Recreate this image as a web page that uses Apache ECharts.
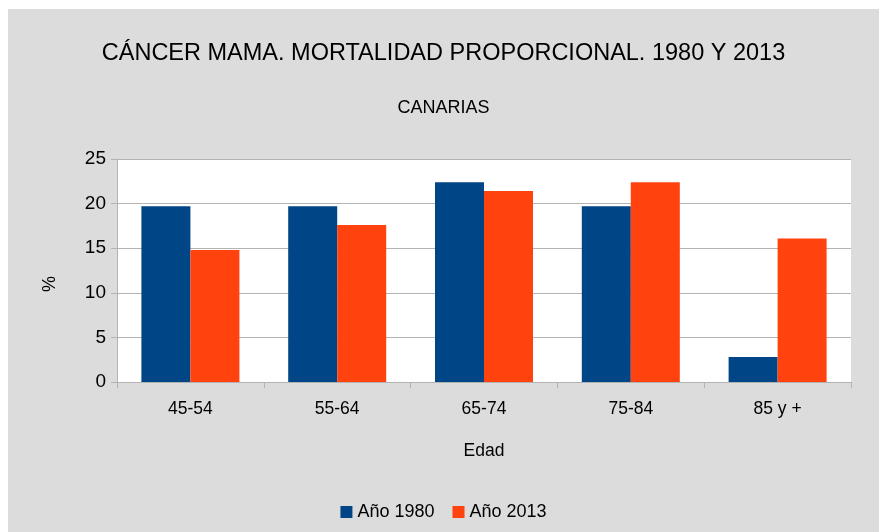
<!DOCTYPE html>
<html>
<head>
<meta charset="utf-8">
<script src="https://cdn.jsdelivr.net/npm/echarts@6/dist/echarts.min.js"></script>
<style>
  html, body { margin: 0; padding: 0; background: #fff; }
  #chart { position: absolute; left: 8px; top: 9px; width: 871px; height: 523px; background: #dcdcdc; }
</style>
</head>
<body>
<div id="chart"></div>
<script>
const ageGroups = ["45-54", "55-64", "65-74", "75-84", "85 y +"];
const year1980 = [19.7, 19.7, 22.4, 19.7, 2.8];
const year2013 = [14.8, 17.6, 21.4, 22.4, 16.1];
const seriesNames = ["Año 1980", "Año 2013"];

const chart = echarts.init(document.getElementById("chart"));
const font = "Liberation Sans, Arial, sans-serif";

chart.setOption({
  backgroundColor: "#dcdcdc",
  textStyle: {fontFamily: font},
  title: [
    {text: "CÁNCER MAMA. MORTALIDAD PROPORCIONAL. 1980 Y 2013", left: "center", top: 28,
      textStyle: {fontSize: 23.5, fontWeight: "normal", color: "#000", fontFamily: font}},
    {text: "CANARIAS", left: "center", top: 85,
      textStyle: {fontSize: 18, fontWeight: "normal", color: "#000", fontFamily: font}}
  ],
  legend: {
    data: seriesNames, bottom: 6, left: "center", itemWidth: 12, itemHeight: 12, itemGap: 18,
    icon: "rect", textStyle: {fontSize: 18, color: "#000", fontFamily: font}
  },
  grid: {left: 109, top: 150, right: 28, bottom: 150},
  xAxis: {
    type: "category", data: ageGroups, name: "Edad", nameLocation: "middle", nameGap: 60,
    nameTextStyle: {fontSize: 17.5, color: "#000"},
    axisLine: {lineStyle: {color: "#b3b3b3", width: 1}},
    axisTick: {show: true, length: 6, lineStyle: {color: "#b3b3b3"}},
    axisLabel: {fontSize: 17.5, color: "#000", margin: 18}
  },
  yAxis: {
    type: "value", min: 0, max: 25, interval: 5,
    axisLine: {show: true, lineStyle: {color: "#b3b3b3"}},
    axisTick: {show: true, length: 6, inside: false, lineStyle: {color: "#b3b3b3"}},
    axisLabel: {fontSize: 19, color: "#000", margin: 11},
    splitLine: {lineStyle: {color: "#b3b3b3", width: 1}}
  },
  series: [
    {name: seriesNames[0], type: "bar", data: year1980, barWidth: 49, barGap: "0%",
      itemStyle: {color: "#004586"}},
    {name: seriesNames[1], type: "bar", data: year2013, barWidth: 49, barGap: "0%",
      itemStyle: {color: "#ff420e"}}
  ],
  graphic: [
    {type: "rect", z: -1, silent: true,
      shape: {x: 109, y: 150, width: 734, height: 223},
      style: {fill: "#fff"}},
    {type: "text", x: 42, y: 275, rotation: Math.PI / 2, silent: true,
      style: {text: "%", fontSize: 18, fill: "#000", fontFamily: font, align: "center", verticalAlign: "middle"}}
  ]
});
</script>
</body>
</html>
